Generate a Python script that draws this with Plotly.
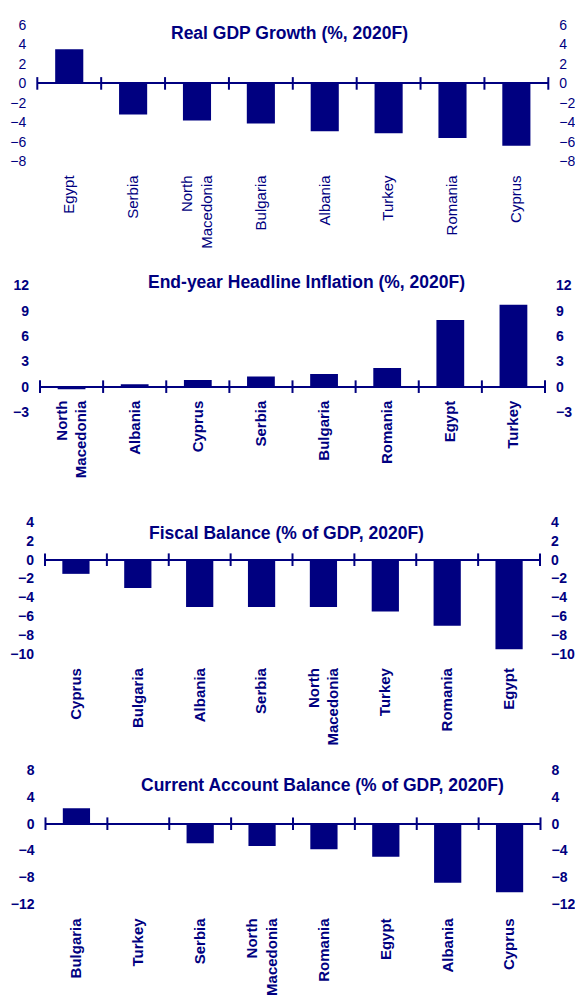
import plotly.graph_objects as go

W, H = 575, 996
NAVY = "#000080"
FONT = "Liberation Sans, Arial, sans-serif"

# ---------------- data ----------------
gdp_countries = ["Egypt", "Serbia", "North<br>Macedonia", "Bulgaria", "Albania", "Turkey", "Romania", "Cyprus"]
gdp_values = [3.5, -3.2, -3.8, -4.1, -4.9, -5.1, -5.6, -6.4]

infl_countries = ["North<br>Macedonia", "Albania", "Cyprus", "Serbia", "Bulgaria", "Romania", "Egypt", "Turkey"]
infl_values = [-0.3, 0.3, 0.8, 1.2, 1.5, 2.2, 7.9, 9.7]

fiscal_countries = ["Cyprus", "Bulgaria", "Albania", "Serbia", "North<br>Macedonia", "Turkey", "Romania", "Egypt"]
fiscal_values = [-1.5, -3.0, -5.0, -5.0, -5.0, -5.5, -7.0, -9.5]

ca_countries = ["Bulgaria", "Turkey", "Serbia", "North<br>Macedonia", "Romania", "Egypt", "Albania", "Cyprus"]
ca_values = [2.3, -0.2, -2.9, -3.3, -3.8, -4.9, -8.8, -10.2]

titles = [
    "Real GDP Growth (%, 2020F)",
    "End-year Headline Inflation (%, 2020F)",
    "Fiscal Balance (% of GDP, 2020F)",
    "Current Account Balance (% of GDP, 2020F)",
]
y_ranges = [(-8, 6), (-3, 12), (-10, 4), (-12, 8)]
y_dticks = [2, 3, 2, 4]

categories = [gdp_countries, infl_countries, fiscal_countries, ca_countries]
values = [gdp_values, infl_values, fiscal_values, ca_values]

# ---------------- layout geometry (pixels) ----------------
x_px = [(37.3, 548.3), (40, 545), (45, 540), (45.5, 540.5)]
y_px = [(17.3, 156.7), (283.3, 412.7), (525, 660), (778.3, 915.7)]   # (top=ymax, bottom=ymin)
title_pos = [(289, 26), (306, 280), (286, 536.5), (322.5, 793.5)]
labels_at_zero = [False, True, False, False]
bold_text = [False, True, True, True]

fig = go.Figure()
layout = {}


def axkey(kind, n):
    return f"{kind}axis" if n == 1 else f"{kind}axis{n}"


def axref(kind, n):
    return kind if n == 1 else f"{kind}{n}"


for i in range(4):
    xn = 2 * i + 1      # main x axis, xn+1 = zero-line axis
    yn = 2 * i + 1      # left y axis, yn+1 = right y axis
    cats = categories[i]
    vals = values[i]
    lo, hi = y_ranges[i]
    weight = "bold" if bold_text[i] else "normal"

    xd = [x_px[i][0] / W, x_px[i][1] / W]
    yd = [1 - y_px[i][1] / H, 1 - y_px[i][0] / H]
    zero_pos = yd[0] + (0 - lo) / (hi - lo) * (yd[1] - yd[0])
    idx = list(range(len(cats)))
    bounds = [k - 0.5 for k in range(len(cats) + 1)]
    yticks = list(range(lo, hi + 1, y_dticks[i]))

    fig.add_trace(go.Bar(
        x=idx, y=vals, width=0.44,
        marker=dict(color=NAVY, line=dict(width=0)),
        xaxis=axref("x", xn), yaxis=axref("y", yn),
        hoverinfo="skip",
    ))
    # category-boundary tick marks crossing the zero line
    fig.add_trace(go.Scatter(
        x=bounds, y=[0] * len(bounds), mode="markers",
        marker=dict(symbol="line-ns", size=9, color=NAVY,
                    line=dict(width=2, color=NAVY)),
        cliponaxis=False,
        xaxis=axref("x", xn), yaxis=axref("y", yn),
        hoverinfo="skip", showlegend=False,
    ))
    # invisible helper traces so that the overlay axes get drawn
    for xa, ya in ((xn + 1, yn), (xn, yn + 1)):
        fig.add_trace(go.Scatter(
            x=idx, y=vals, mode="markers", marker=dict(opacity=0, size=1),
            xaxis=axref("x", xa), yaxis=axref("y", ya),
            hoverinfo="skip", showlegend=False,
        ))

    main_x = dict(
        domain=xd, range=[-0.5, len(cats) - 0.5],
        tickvals=idx, ticktext=cats, tickangle=-90,
        tickfont=dict(family=FONT, size=15, color=NAVY, weight=weight),
        showline=False, showgrid=False, zeroline=False, ticks="",
        ticklabelstandoff=10, fixedrange=True,
    )
    if labels_at_zero[i]:
        main_x.update(anchor="free", position=zero_pos)
    else:
        main_x.update(anchor=axref("y", yn))
    layout[axkey("x", xn)] = main_x

    layout[axkey("x", xn + 1)] = dict(
        overlaying=axref("x", xn), anchor="free", position=zero_pos,
        range=[-0.5, len(cats) - 0.5],
        showticklabels=False, showline=True, linecolor=NAVY, linewidth=2,
        ticks="", showgrid=False, zeroline=False,
    )

    yfont = dict(family=FONT, size=14, color=NAVY, weight=weight)
    layout[axkey("y", yn)] = dict(
        domain=yd, range=[lo, hi], tickvals=yticks, anchor=axref("x", xn),
        tickfont=yfont, ticks="", showgrid=False, zeroline=False, showline=False,
        ticklabelstandoff=10,
    )
    layout[axkey("y", yn + 1)] = dict(
        overlaying=axref("y", yn), side="right", anchor=axref("x", xn),
        range=[lo, hi], tickvals=yticks,
        tickfont=yfont, ticks="", showgrid=False, zeroline=False, showline=False,
        ticklabelstandoff=10,
    )

annotations = []
for i in range(4):
    cx, cy = title_pos[i]
    annotations.append(dict(
        text=titles[i], xref="paper", yref="paper",
        x=cx / W, y=1 - cy / H, xanchor="center", yanchor="middle",
        showarrow=False,
        font=dict(family=FONT, size=17.5, color=NAVY, weight="bold"),
    ))

fig.update_layout(
    width=W, height=H,
    margin=dict(l=0, r=0, t=0, b=0),
    paper_bgcolor="white", plot_bgcolor="white",
    showlegend=False, bargap=0.5,
    annotations=annotations,
    **layout,
)

fig.write_html("out.html")
